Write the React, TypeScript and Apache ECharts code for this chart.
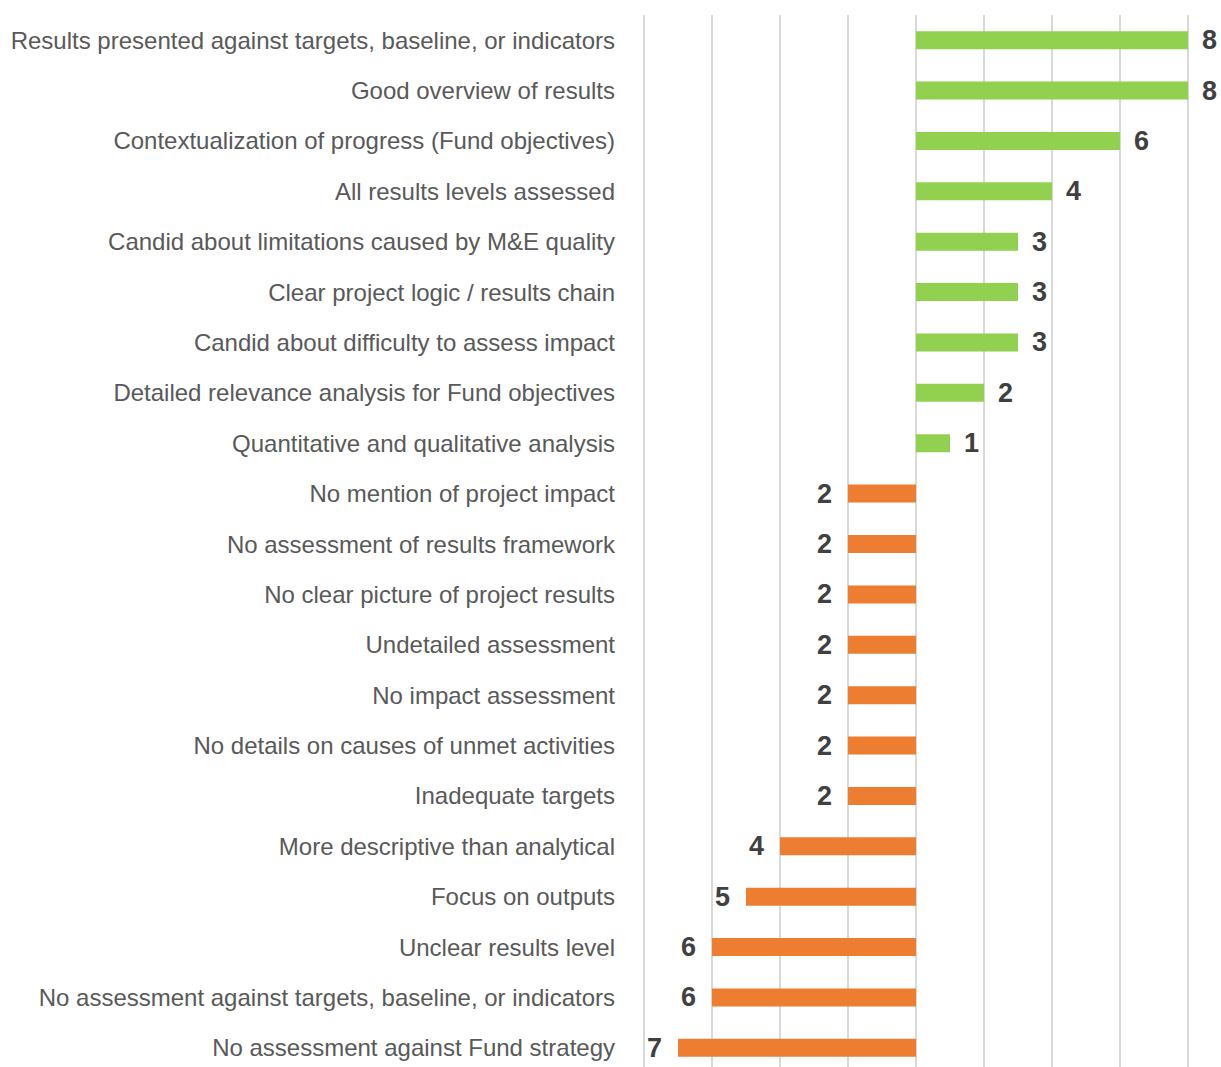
import React, { useEffect, useRef } from "react";
import * as echarts from "echarts";

const categories: string[] = [
  "Results presented against targets, baseline, or indicators",
  "Good overview of results",
  "Contextualization of progress (Fund objectives)",
  "All results levels assessed",
  "Candid about limitations caused by M&E quality",
  "Clear project logic / results chain",
  "Candid about difficulty to assess impact",
  "Detailed relevance analysis for Fund objectives",
  "Quantitative and qualitative analysis",
  "No mention of project impact",
  "No assessment of results framework",
  "No clear picture of project results",
  "Undetailed assessment",
  "No impact assessment",
  "No details on causes of unmet activities",
  "Inadequate targets",
  "More descriptive than analytical",
  "Focus on outputs",
  "Unclear results level",
  "No assessment against targets, baseline, or indicators",
  "No assessment against Fund strategy",
];

// positive = strengths (green), negative = weaknesses (orange)
const values: number[] = [8, 8, 6, 4, 3, 3, 3, 2, 1, -2, -2, -2, -2, -2, -2, -2, -4, -5, -6, -6, -7];

const axisMin = -8;
const axisMax = 8;
const axisInterval = 2;

const GREEN = "#92D050";
const ORANGE = "#ED7D31";

export default function App() {
  const ref = useRef<HTMLDivElement>(null);
  useEffect(() => {
    if (!ref.current) return;
    const chart = echarts.init(ref.current, undefined, { renderer: "svg" });
    const font = '"Liberation Sans", Arial, sans-serif';
    const data = values.map((v) => ({
      value: v,
      itemStyle: { color: v >= 0 ? GREEN : ORANGE },
      label: { position: v >= 0 ? "right" : "left", distance: v >= 0 ? 14 : 16 },
    }));
    chart.setOption({
      animation: false,
      grid: { left: 644, width: 544, top: 15, height: 1058, containLabel: false },
      xAxis: {
        type: "value",
        min: axisMin,
        max: axisMax,
        interval: axisInterval,
        axisLabel: { show: false },
        axisLine: { show: false },
        axisTick: { show: false },
        splitLine: { show: true, lineStyle: { color: "#D9D9D9", width: 2 } },
      },
      yAxis: {
        type: "category",
        data: categories,
        inverse: true,
        axisLine: { show: false },
        axisTick: { show: false },
        splitLine: { show: false },
        axisLabel: {
          color: "#595959",
          fontSize: 24,
          fontFamily: font,
          margin: 29,
        },
      },
      series: [
        {
          type: "bar",
          data,
          barWidth: 18,
          label: {
            show: true,
            color: "#404040",
            fontSize: 27,
            fontWeight: "bold",
            fontFamily: font,
            formatter: (p: any) => String(Math.abs(p.value)),
          },
        },
      ],
    });
    return () => chart.dispose();
  }, []);
  return (
    <div
      ref={ref}
      style={{ position: "fixed", left: 0, top: 0, width: 1221, height: 1080, background: "#fff" }}
    />
  );
}
